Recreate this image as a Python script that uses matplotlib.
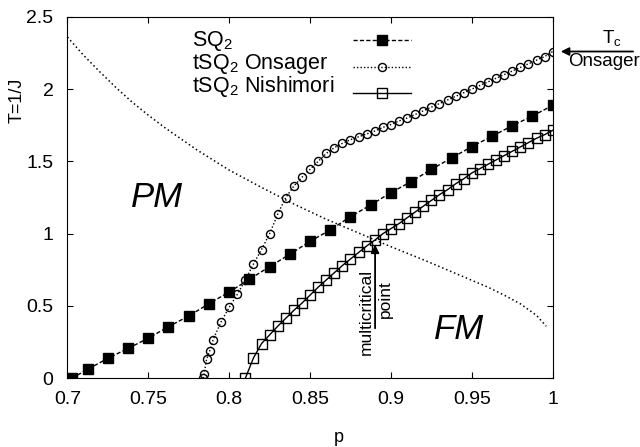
import matplotlib
matplotlib.use("Agg")
import matplotlib.pyplot as plt

plt.rcParams['font.family'] = ['Liberation Sans', 'DejaVu Sans']
plt.rcParams['mathtext.fontset'] = 'custom'
plt.rcParams['mathtext.rm'] = 'Liberation Sans'
plt.rcParams['mathtext.it'] = 'Liberation Sans:italic'

# SQ2 (filled squares, dashed)
sq2_p = [0.7027, 0.7125, 0.725, 0.7375, 0.75, 0.7625, 0.775, 0.7875, 0.8, 0.8125,
         0.825, 0.8375, 0.85, 0.8625, 0.875, 0.8875, 0.9, 0.9125, 0.925, 0.9375,
         0.95, 0.9625, 0.975, 0.9875, 1.0]
sq2_T = [0.0, 0.062, 0.138, 0.207, 0.277, 0.357, 0.431, 0.516, 0.597, 0.685,
         0.772, 0.858, 0.947, 1.026, 1.118, 1.199, 1.284, 1.360, 1.445, 1.524,
         1.602, 1.674, 1.747, 1.814, 1.888]

# tSQ2 Onsager (open circles, dotted)
ons_p = [0.784, 0.7845, 0.786, 0.788, 0.790, 0.795, 0.800, 0.805, 0.810, 0.815,
         0.820, 0.825, 0.830, 0.835, 0.840, 0.845, 0.850, 0.855, 0.860, 0.865,
         0.870, 0.875, 0.880, 0.885, 0.890, 0.895, 0.900, 0.905, 0.910, 0.915,
         0.920, 0.925, 0.930, 0.935, 0.940, 0.945, 0.950, 0.955, 0.960, 0.965,
         0.970, 0.975, 0.980, 0.985, 0.990, 0.995, 1.000]
ons_T = [0.0, 0.03, 0.13, 0.19, 0.265, 0.39, 0.49, 0.58, 0.68, 0.79,
         0.89, 1.00, 1.135, 1.25, 1.33, 1.39, 1.445, 1.50, 1.555, 1.595,
         1.625, 1.65, 1.67, 1.69, 1.71, 1.735, 1.755, 1.78, 1.80, 1.825,
         1.85, 1.875, 1.90, 1.925, 1.95, 1.975, 2.00, 2.025, 2.05, 2.075,
         2.10, 2.125, 2.15, 2.175, 2.20, 2.225, 2.26]

# tSQ2 Nishimori (open squares, solid)
nis_p = [0.810, 0.815, 0.820, 0.825, 0.830, 0.835, 0.840, 0.845, 0.850, 0.855,
         0.860, 0.865, 0.870, 0.875, 0.880, 0.885, 0.890, 0.895, 0.900, 0.905,
         0.910, 0.915, 0.920, 0.925, 0.930, 0.935, 0.940, 0.945, 0.950, 0.955,
         0.960, 0.965, 0.970, 0.975, 0.980, 0.985, 0.990, 0.995, 1.000]
nis_T = [0.0, 0.14, 0.24, 0.30, 0.36, 0.415, 0.47, 0.52, 0.575, 0.63,
         0.68, 0.73, 0.78, 0.825, 0.87, 0.915, 0.955, 1.0, 1.035, 1.07,
         1.11, 1.15, 1.19, 1.23, 1.27, 1.305, 1.345, 1.38, 1.42, 1.45,
         1.48, 1.51, 1.54, 1.57, 1.60, 1.63, 1.66, 1.685, 1.715]

# Nishimori line (thin dotted curve)
nline_p = [0.70, 0.71, 0.72, 0.73, 0.74, 0.75, 0.76, 0.78, 0.80, 0.82, 0.84, 0.86,
           0.88, 0.90, 0.92, 0.94, 0.96, 0.97, 0.98, 0.99, 0.996]
nline_T = [2.36, 2.234, 2.12, 2.011, 1.91, 1.82, 1.735, 1.58, 1.44, 1.32, 1.205, 1.10,
           1.005, 0.91, 0.82, 0.725, 0.63, 0.575, 0.515, 0.435, 0.36]

labels = ['SQ$_\\mathregular{2}$', 'tSQ$_\\mathregular{2}$ Onsager',
          'tSQ$_\\mathregular{2}$ Nishimori']
xticks = [0.7, 0.75, 0.8, 0.85, 0.9, 0.95, 1.0]
xtick_labels = ['0.7', '0.75', '0.8', '0.85', '0.9', '0.95', '1']
yticks = [0, 0.5, 1, 1.5, 2, 2.5]
ytick_labels = ['0', '0.5', '1', '1.5', '2', '2.5']

fig = plt.figure(figsize=(6.4, 4.47), dpi=100)
ax = fig.add_axes([0.1053, 0.1537, 0.7583, 0.8087])

ax.plot(nline_p, nline_T, color='k', lw=1.1, linestyle=(0, (1, 1.8)))

h1, = ax.plot(sq2_p, sq2_T, color='k', lw=1.0, linestyle=(0, (3, 1.6)),
              marker='s', ms=6.8, mfc='k', mec='k')
h2, = ax.plot(ons_p, ons_T, color='k', lw=1.0, linestyle=(0, (1, 1.5)),
              marker='o', ms=5.8, mfc='none', mec='k', mew=1.0)
h3, = ax.plot(nis_p, nis_T, color='k', lw=1.0, linestyle='-',
              marker='s', ms=7, mfc='none', mec='k', mew=1.0)

ax.set_xlim(0.7, 1.0)
ax.set_ylim(0, 2.5)
ax.set_xticks(xticks)
ax.set_xticklabels(xtick_labels)
ax.set_yticks(yticks)
ax.set_yticklabels(ytick_labels)
ax.tick_params(direction='in', top=True, right=True, length=4, width=0.8,
               labelsize=14)
ax.tick_params(axis='y', pad=10)
ax.tick_params(axis='x', pad=9)

ax.set_xlabel('p', fontsize=13)
ax.set_ylabel('T=1/J', fontsize=13)
ax.xaxis.set_label_coords(0.56, -0.14)
ax.yaxis.set_label_coords(-0.087, 0.77)

# legend samples on the right, left-aligned labels (gnuplot style)
leg = ax.legend([h1, h2, h3], ['', '', ''], loc='upper left',
                bbox_to_anchor=(0.588, 0.958), frameon=False,
                markerfirst=True, fontsize=15.5, handlelength=2.7,
                handletextpad=0.0, labelspacing=0.25, borderpad=0,
                borderaxespad=0)
ax.text(0.2567, 0.965, '\n'.join(labels), transform=ax.transAxes,
        fontsize=15.5, ha='left', va='top', linespacing=0.9)

ax.text(0.7557, 1.25, 'PM', fontsize=25, style='italic', ha='center', va='center')
ax.text(0.9422, 0.34, 'FM', fontsize=25, style='italic', ha='center', va='center')

ax.annotate('', xy=(0.8902, 0.925), xytext=(0.8902, 0.346),
            arrowprops=dict(arrowstyle='-|>', color='k', lw=1.3,
                            mutation_scale=12, shrinkA=0, shrinkB=0))
ax.text(0.8848, 0.46, 'multicritical', rotation=90, fontsize=12.5,
        ha='center', va='center')
ax.text(0.8966, 0.545, 'point', rotation=90, fontsize=12.5,
        ha='center', va='center')

ax.annotate('', xy=(1.005, 2.26), xytext=(1.0497, 2.26),
            arrowprops=dict(arrowstyle='-|>', color='k', lw=1.3,
                            mutation_scale=12, shrinkA=0, shrinkB=0),
            annotation_clip=False)
ax.text(1.0365, 2.351, 'T$_\\mathregular{c}$', fontsize=13.5, ha='center',
        va='center', clip_on=False)
ax.text(1.0315, 2.19, 'Onsager', fontsize=13.5, ha='center', va='center',
        clip_on=False)

fig.savefig('out.png', dpi=100)
